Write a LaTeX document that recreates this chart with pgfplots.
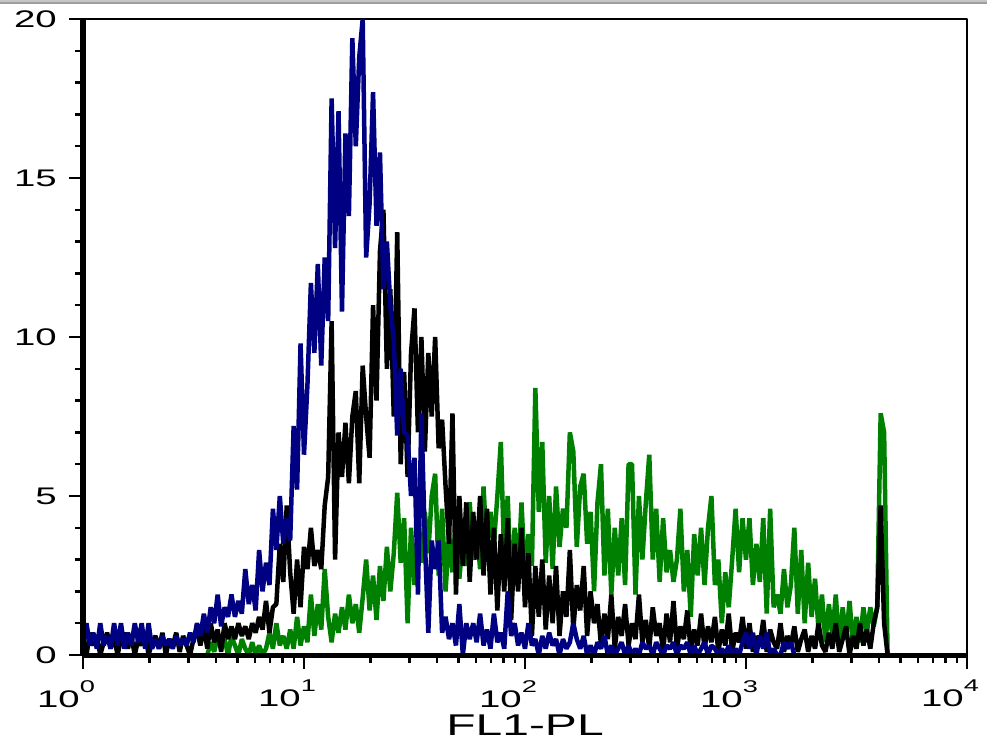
\documentclass[border=0pt]{standalone}
\usepackage{pgfplots}
\pgfplotsset{compat=1.18}
\usepackage{pgfplotstable}
\usepackage{fontspec}
\setmainfont{Liberation Sans}
\newfontfamily\tickfont{Liberation Sans}[FakeStretch=1.6]
\definecolor{fnavy}{RGB}{0,0,130}
\definecolor{fgreen}{RGB}{0,128,0}
\newcommand{\xtl}[1]{{\tickfont\fontsize{24}{24}\selectfont 10\raisebox{15pt}{\fontsize{17}{17}\selectfont #1}}}

\pgfplotstableread[row sep=\\]{
c v\\
0 0.3\\1 1.0\\2 0.3\\3 0.7\\4 0.2\\5 1.0\\6 0.3\\7 0.6\\8 0.2\\9 1.0\\10 0.3\\11 1.0\\12 0.2\\13 0.7\\14 0.3\\15 1.0\\16 0.4\\17 1.0\\18 0.2\\19 1.0\\
20 0.2\\21 0.5\\22 0.2\\23 0.6\\24 0.3\\25 0.5\\26 0.2\\27 0.6\\28 0.3\\29 0.5\\30 0.3\\31 0.7\\32 0.4\\33 1.0\\34 0.6\\35 1.3\\36 0.7\\37 1.5\\38 1.0\\39 1.9\\
40 0.9\\41 1.5\\42 1.2\\43 1.9\\44 1.2\\45 1.7\\46 1.3\\47 2.7\\48 1.6\\49 2.2\\50 1.4\\51 3.3\\52 2.0\\53 2.9\\54 2.2\\55 4.6\\56 3.3\\57 5.0\\58 3.5\\59 4.3\\
60 3.6\\61 7.2\\62 5.2\\63 9.8\\64 6.3\\65 8.5\\66 11.7\\67 9.5\\68 12.3\\69 9.1\\70 12.5\\71 10.5\\72 17.5\\73 12.8\\74 17.1\\75 10.8\\76 16.4\\77 13.8\\78 19.4\\79 16.0\\
80 18.8\\81 20.0\\82 12.5\\83 14.2\\84 17.7\\85 13.5\\86 15.8\\87 11.5\\88 13.0\\89 11.0\\90 9.9\\91 6.9\\92 9.0\\93 7.0\\94 6.9\\95 5.0\\96 6.2\\97 1.9\\98 7.6\\99 3.6\\
100 0.7\\101 3.6\\102 2.7\\103 3.6\\104 0.7\\105 1.2\\106 0.5\\107 1.0\\108 0.3\\109 1.6\\110 0.0\\111 1.0\\112 0.5\\113 1.0\\114 0.4\\115 1.3\\116 0.3\\117 0.8\\118 0.2\\119 1.3\\
120 0.4\\121 0.7\\122 0.2\\123 2.0\\124 0.6\\125 1.0\\126 0.3\\127 0.7\\128 0.2\\129 1.0\\130 0.3\\131 0.5\\132 0.0\\133 0.6\\134 0.2\\135 0.7\\136 0.3\\137 0.5\\138 0.0\\139 0.5\\
140 0.2\\141 0.4\\142 1.0\\143 0.5\\144 0.2\\145 0.6\\146 0.0\\147 0.3\\148 0.0\\149 0.4\\150 0.2\\151 0.6\\152 0.0\\153 0.3\\154 0.0\\155 0.2\\156 0.4\\157 0.0\\158 0.3\\159 0.0\\
160 0.2\\161 0.0\\162 0.4\\163 0.2\\164 0.3\\165 0.0\\166 0.4\\167 0.2\\168 0.0\\169 0.3\\170 0.2\\171 0.4\\172 0.0\\173 0.3\\174 0.2\\175 0.4\\176 0.0\\177 0.3\\178 0.0\\179 0.2\\
180 0.4\\181 0.0\\182 0.3\\183 0.2\\184 0.0\\185 0.2\\186 0.0\\187 0.3\\188 0.0\\189 0.2\\190 0.0\\191 0.4\\192 0.7\\193 0.2\\194 0.7\\195 0.0\\196 0.6\\197 0.2\\198 0.7\\199 0.0\\
200 0.2\\201 0.0\\202 0.0\\203 0.4\\204 0.2\\205 0.4\\206 0.0\\
}\blue

\pgfplotstableread[row sep=\\]{
c v\\
0 0.5\\1 0.0\\2 0.7\\3 0.3\\4 0.6\\5 0.0\\6 0.4\\7 0.7\\8 0.2\\9 0.6\\10 0.0\\11 0.5\\12 0.7\\13 0.2\\14 0.6\\15 0.0\\16 0.5\\17 0.3\\18 0.7\\19 0.0\\
20 0.4\\21 0.6\\22 0.2\\23 0.7\\24 0.0\\25 0.5\\26 0.3\\27 0.7\\28 0.1\\29 0.6\\30 0.3\\31 0.0\\32 0.5\\33 0.8\\34 0.3\\35 0.9\\36 0.2\\37 1.0\\38 0.4\\39 0.8\\
40 0.1\\41 1.0\\42 0.5\\43 0.9\\44 0.5\\45 1.0\\46 0.6\\47 0.9\\48 0.5\\49 1.0\\50 0.7\\51 1.2\\52 0.8\\53 1.7\\54 0.7\\55 1.5\\56 1.6\\57 3.5\\58 2.3\\59 4.7\\
60 2.6\\61 1.3\\62 3.0\\63 1.5\\64 3.4\\65 2.7\\66 4.0\\67 2.8\\68 3.3\\69 2.7\\70 4.7\\71 5.6\\72 10.5\\73 3.0\\74 7.0\\75 5.6\\76 7.3\\77 5.4\\78 7.5\\79 8.3\\
80 5.4\\81 9.1\\82 7.5\\83 6.2\\84 11.0\\85 8.0\\86 12.7\\87 14.0\\88 9.0\\89 11.5\\90 7.5\\91 13.3\\92 6.0\\93 8.9\\94 5.6\\95 9.5\\96 10.9\\97 7.0\\98 10.0\\99 6.4\\
100 9.5\\101 7.5\\102 10.0\\103 6.5\\104 7.4\\105 5.3\\106 3.5\\107 7.6\\108 1.9\\109 5.0\\110 2.8\\111 4.8\\112 2.3\\113 4.5\\114 3.0\\115 5.0\\116 2.5\\117 4.6\\118 1.9\\119 4.0\\
120 1.4\\121 3.8\\122 2.0\\123 4.3\\124 1.1\\125 3.5\\126 2.0\\127 4.0\\128 1.5\\129 3.2\\130 0.6\\131 2.8\\132 1.2\\133 3.0\\134 0.8\\135 2.5\\136 1.0\\137 2.8\\138 0.6\\139 2.0\\
140 1.2\\141 3.3\\142 0.8\\143 2.2\\144 1.4\\145 2.8\\146 0.6\\147 2.0\\148 1.0\\149 1.6\\150 0.3\\151 1.3\\152 0.5\\153 1.9\\154 0.2\\155 1.2\\156 0.6\\157 1.6\\158 0.3\\159 1.0\\
160 0.5\\161 1.9\\162 0.4\\163 1.1\\164 0.2\\165 1.5\\166 0.6\\167 1.0\\168 0.1\\169 1.3\\170 0.4\\171 1.7\\172 0.2\\173 0.9\\174 0.5\\175 1.4\\176 0.1\\177 0.8\\178 0.3\\179 1.3\\
180 0.2\\181 0.9\\182 0.4\\183 1.2\\184 0.1\\185 0.8\\186 0.3\\187 1.3\\188 0.1\\189 0.7\\190 0.4\\191 1.2\\192 0.2\\193 1.0\\194 0.1\\195 0.6\\196 0.3\\197 1.1\\198 0.1\\199 0.8\\
200 0.4\\201 0.2\\202 1.0\\203 0.1\\204 0.6\\205 0.3\\206 0.9\\207 0.1\\208 0.5\\209 0.8\\210 0.1\\211 0.6\\212 0.2\\213 1.0\\214 0.3\\215 0.1\\216 0.7\\217 0.2\\218 1.0\\219 0.1\\
220 0.5\\221 0.9\\222 0.0\\223 0.6\\224 0.2\\225 1.0\\226 0.3\\227 0.8\\228 0.2\\229 1.0\\230 1.5\\231 4.7\\232 1.0\\233 0.0\\
}\black

\pgfplotstableread[row sep=\\]{
c v\\
36 0.0\\37 0.4\\38 0.1\\39 0.6\\
40 0.2\\41 0.5\\42 0.0\\43 0.6\\44 0.3\\45 0.0\\46 0.5\\47 0.2\\48 0.0\\49 0.4\\50 0.0\\51 0.3\\52 0.0\\53 0.2\\54 0.7\\55 0.2\\56 1.0\\57 0.3\\58 0.6\\59 0.2\\
60 0.8\\61 0.2\\62 1.2\\63 0.3\\64 0.9\\65 0.4\\66 1.9\\67 0.6\\68 1.6\\69 0.8\\70 2.7\\71 1.2\\72 0.4\\73 1.3\\74 0.7\\75 1.5\\76 0.8\\77 1.9\\78 1.0\\79 1.6\\
80 0.7\\81 1.8\\82 3.0\\83 1.4\\84 2.5\\85 1.1\\86 2.8\\87 1.7\\88 3.4\\89 2.0\\90 3.2\\91 5.1\\92 2.9\\93 4.3\\94 1.0\\95 4.0\\96 2.2\\97 4.0\\98 2.9\\99 4.5\\
100 3.2\\101 5.0\\102 5.7\\103 2.5\\104 4.6\\105 2.0\\106 3.8\\107 2.6\\108 4.4\\109 2.4\\110 3.7\\111 2.8\\112 4.8\\113 3.0\\114 4.0\\115 2.7\\116 5.3\\117 3.2\\118 4.5\\119 3.5\\
120 5.0\\121 6.7\\122 3.0\\123 5.0\\124 1.9\\125 4.0\\126 2.6\\127 4.8\\128 2.4\\129 3.8\\130 2.8\\131 8.4\\132 4.5\\133 6.7\\134 2.9\\135 5.0\\136 2.7\\137 5.3\\138 3.4\\139 4.6\\
140 4.0\\141 7.0\\142 6.4\\143 3.4\\144 5.3\\145 5.7\\146 3.5\\147 4.5\\148 2.0\\149 4.8\\150 6.0\\151 2.5\\152 4.6\\153 1.9\\154 4.0\\155 2.5\\156 4.3\\157 2.2\\158 6.0\\159 6.0\\
160 1.9\\161 5.0\\162 3.0\\163 4.8\\164 6.3\\165 3.0\\166 4.6\\167 2.3\\168 4.3\\169 2.6\\170 3.3\\171 2.3\\172 3.0\\173 4.6\\174 2.0\\175 3.3\\176 1.2\\177 3.8\\178 2.5\\179 4.0\\
180 2.2\\181 4.0\\182 5.0\\183 2.2\\184 3.0\\185 1.0\\186 2.6\\187 1.5\\188 3.0\\189 4.6\\190 2.6\\191 4.3\\192 3.0\\193 4.3\\194 2.2\\195 3.5\\196 2.3\\197 4.3\\198 1.3\\199 4.6\\
200 1.5\\201 1.9\\202 1.3\\203 2.7\\204 1.5\\205 2.2\\206 4.0\\207 1.3\\208 3.3\\209 1.0\\210 2.9\\211 1.2\\212 2.4\\213 0.8\\214 1.9\\215 0.4\\216 1.6\\217 0.6\\218 1.9\\219 0.3\\
220 1.5\\221 0.5\\222 1.7\\223 0.3\\224 1.2\\225 0.4\\226 1.5\\227 0.7\\228 1.5\\229 0.9\\230 1.5\\231 7.6\\232 7.0\\233 0.0\\
}\green

\begin{document}
\begin{tikzpicture}
\begin{semilogxaxis}[
  scale only axis,
  width=884pt, height=636pt,
  xmin=1, xmax=10000, ymin=0, ymax=20,
  axis line style={line width=2.7pt},
  tick align=outside,
  xtick pos=bottom, ytick pos=left,
  major tick length=14pt, minor tick length=8pt,
  every tick/.style={black, line width=2.5pt},
  xtick={1,10,100,1000,10000},
  xticklabels={\xtl{0},\xtl{1},\xtl{2},\xtl{3},\xtl{4}},
  ytick={0,5,10,15,20},
  yticklabels={0,5,10,15,20},
  minor y tick num=4,
  yticklabel style={font=\tickfont\fontsize{24}{24}\selectfont, anchor=east, inner sep=0pt, xshift=-12pt},
  xticklabel style={anchor=north, inner sep=0pt, xshift=-17pt, yshift=-11pt},
  xlabel={\tickfont\fontsize{30}{30}\selectfont FL1-PL},
  xlabel style={anchor=north, inner sep=0pt, at={(axis description cs:0.5,0)}, yshift=-60pt},
  clip=false,
  line join=bevel,
]
\addplot[fgreen, line width=4.5pt] table[x expr={10^(\thisrow{c}/64)}, y=v] {\green};
\addplot[black, line width=4.5pt] table[x expr={10^(\thisrow{c}/64)}, y=v] {\black};
\addplot[fnavy, line width=4.5pt] table[x expr={10^(\thisrow{c}/64)}, y=v] {\blue};
\draw[line width=6pt] (rel axis cs:0,1) -- (rel axis cs:0,0);
\draw[line width=5pt] (rel axis cs:0,0) -- (rel axis cs:1,0);
\end{semilogxaxis}
\pgfresetboundingbox
\path[use as bounding box] (-83pt,-89pt) rectangle (904pt,655pt);
\fill[gray!45] (-83pt,651pt) rectangle (904pt,655pt);
\fill[gray!75] (-83pt,651pt) rectangle (904pt,652.5pt);
\end{tikzpicture}
\end{document}
